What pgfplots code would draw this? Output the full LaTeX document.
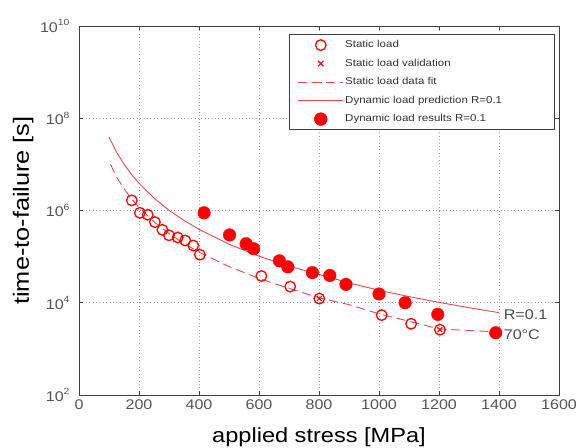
\documentclass[border=0pt]{standalone}
\usepackage{pgfplots}
\pgfplotsset{compat=1.18}
\usepackage{fontspec}
\setmainfont{Liberation Sans}[FakeStretch=1.15]
\definecolor{mred}{RGB}{255,0,0}
\definecolor{lred}{RGB}{232,70,80}
\definecolor{axgray}{RGB}{64,64,64}
\definecolor{tickgray}{RGB}{85,85,85}
\newcommand{\tp}[1]{10\raisebox{6.5pt}{\fontsize{9}{9}\selectfont #1}}
\begin{document}
\begin{tikzpicture}
\begin{axis}[
  scale only axis, width=480pt, height=369pt,
  xmin=0, xmax=1600, ymode=log, ymin=1e2, ymax=1e10,
  xtick={0,200,...,1600},
  ytick={1e2,1e4,1e6,1e8,1e10},
  yticklabels={\tp{2},\tp{4},\tp{6},\tp{8},\tp{10}},
  yminorticks=false,
  tick align=inside, major tick length=4pt,
  axis line style={axgray, line width=0.8pt},
  every tick/.style={axgray, line width=0.6pt},
  grid=major,
  major grid style={gray!75, line width=0.7pt, dash pattern=on 0.8pt off 2.6pt},
  xticklabel style={font=\fontsize{14}{14}\selectfont, text=tickgray, /pgf/number format/assume math mode=true, /pgf/number format/1000 sep={}, yshift=-1pt},
  yticklabel style={font=\fontsize{14}{14}\selectfont, text=tickgray, xshift=-6pt},
  xlabel={applied stress [MPa]},
  ylabel={time-to-failure [s]},
  xlabel style={font=\fontsize{20.5}{20.5}\selectfont, at={([yshift=-48pt]axis description cs:0.5,0)}, anchor=base},
  ylabel style={font=\fontsize{22}{22}\selectfont, at={([xshift=-50pt]axis description cs:0,0.5)}, anchor=base},
  legend cell align=left,
  legend image code/.code={\path (-4pt,0pt); \draw[mark repeat=2,mark phase=2,#1] plot coordinates {(0pt,0pt) (22.5pt,0pt) (45pt,0pt)};},
  legend style={at={(rel axis cs:1,1)}, anchor=north east, xshift=-4pt, yshift=-8pt, draw=axgray, line width=0.7pt, font=\fontsize{10}{10}\selectfont, text=black!80, row sep=5pt, inner xsep=4pt, inner ysep=4pt, nodes={inner sep=1.5pt, text height=8pt, text depth=2.5pt}},
]
\addlegendimage{only marks, mark=o, mark size=5.3pt, mred, line width=1.3pt}
\addlegendentry{Static load}
\addlegendimage{only marks, mark=x, mark size=3.8pt, mred, line width=1.2pt}
\addlegendentry{Static load validation}
\addlegendimage{lred, line width=0.9pt, dash pattern=on 9pt off 5pt}
\addlegendentry{Static load data fit}
\addlegendimage{lred, line width=0.9pt}
\addlegendentry{Dynamic load prediction R=0.1\rule{47pt}{0pt}}
\addlegendimage{only marks, mark=*, mark size=6.3pt, mred}
\addlegendentry{Dynamic load results R=0.1}

% static load data fit
\addplot[forget plot, lred, line width=0.9pt, dash pattern=on 9pt off 5pt] coordinates {
(105,1.0e7) (125,5.35e6) (150,2.97e6) (175,1.80e6) (200,1.17e6) (250,5.70e5)
(300,3.16e5) (350,1.92e5) (400,1.25e5) (500,6.08e4) (600,3.37e4) (700,2.05e4)
(800,1.28e4) (900,9.1e3) (1000,5.75e3) (1100,3.98e3) (1200,2.70e3) (1300,2.5e3) (1390,2.34e3)};
% dynamic load prediction
\addplot[forget plot, lred, line width=0.9pt] coordinates {
(100,3.9e7) (125,1.85e7) (150,1.01e7) (175,6.07e6) (200,3.9e6) (250,1.86e6)
(300,1.01e6) (350,6.08e5) (400,3.91e5) (500,1.86e5) (600,1.02e5) (700,6.2e4)
(800,4.1e4) (900,2.7e4) (1000,1.86e4) (1100,1.36e4) (1200,1.02e4) (1300,7.8e3) (1400,6.1e3)};
% static load
\addplot[forget plot, only marks, mark=o, mark size=5.3pt, mred, line width=1.3pt] coordinates {
(176,1.66e6) (203,8.9e5) (229,8.1e5) (253,5.6e5) (278,3.8e5) (300,2.9e5)
(329,2.6e5) (354,2.24e5) (381,1.74e5) (403,1.10e5) (608,3.8e4) (704,2.24e4)
(801,1.23e4) (1009,5.4e3) (1107,3.5e3) (1203,2.6e3)};
% static load validation
\addplot[forget plot, only marks, mark=x, mark size=3.5pt, mred, line width=1.0pt] coordinates {
(801,1.23e4) (1203,2.6e3)};
% dynamic load results
\addplot[forget plot, only marks, mark=*, mark size=6.3pt, mred] coordinates {
(417,8.9e5) (502,2.95e5) (557,1.9e5) (582,1.48e5) (668,8.1e4) (696,6.0e4)
(778,4.5e4) (836,3.9e4) (890,2.5e4) (1000,1.55e4) (1087,1.0e4) (1196,5.6e3) (1389,2.24e3)};

\node[anchor=west, inner sep=1pt, text=black!70, font=\fontsize{14}{14}\selectfont] at (axis cs:1412,5.5e3) {R=0.1};
\node[anchor=west, inner sep=1pt, text=black!70, font=\fontsize{14}{14}\selectfont] at (axis cs:1412,2.0e3) {70°C};
\end{axis}
\pgfresetboundingbox
\path[use as bounding box] ([shift={(-79pt,-53pt)}]current axis.south west) rectangle ([shift={(18pt,26pt)}]current axis.north east);
\end{tikzpicture}
\end{document}
